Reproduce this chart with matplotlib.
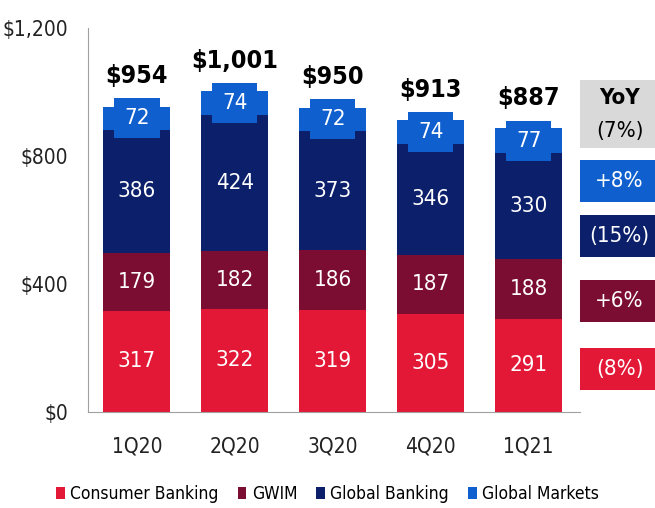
import matplotlib.pyplot as plt
from matplotlib.patches import Rectangle
from matplotlib.ticker import FuncFormatter

plt.rcParams['font.family'] = ['DejaVu Sans']
plt.rcParams['font.stretch'] = 'condensed'

quarters = ['1Q20', '2Q20', '3Q20', '4Q20', '1Q21']
consumer = [317, 322, 319, 305, 291]
gwim = [179, 182, 186, 187, 188]
global_banking = [386, 424, 373, 346, 330]
global_markets = [72, 74, 72, 74, 77]
totals = ['$954', '$1,001', '$950', '$913', '$887']

series_names = ['Consumer Banking', 'GWIM', 'Global Banking', 'Global Markets']
colors = ['#E31837', '#7B0C32', '#0B1F6B', '#0F5FCF']

yoy_labels = ['+8%', '(15%)', '+6%', '(8%)']
yoy_colors = ['#0F5FCF', '#0B1F6B', '#7B0C32', '#E31837']

fig = plt.figure(figsize=(6.55, 5.08), dpi=100)
ax = fig.add_axes([0.134, 0.189, 0.751, 0.756])

x = range(len(quarters))
bottoms = [0] * len(quarters)
series = [consumer, gwim, global_banking, global_markets]
for vals, c, name in zip(series, colors, series_names):
    ax.bar(x, vals, bottom=bottoms, width=0.68, color=c, label=name)
    for i, v in enumerate(vals):
        y = bottoms[i] + v / 2
        if name == 'Global Markets':
            # label box sticks out of the segment like in the original slide
            ax.text(i, y, str(v), ha='center', va='center', color='white',
                    fontsize=16, bbox=dict(boxstyle='square,pad=0.45', fc=c, ec='none'))
        else:
            ax.text(i, y, str(v), ha='center', va='center', color='white', fontsize=16)
    bottoms = [b + v for b, v in zip(bottoms, vals)]

for i, t in enumerate(totals):
    ax.text(i, bottoms[i] + 58, t, ha='center', va='bottom', fontsize=18,
            fontweight='bold')

ax.set_xlim(-0.5, 4.52)
ax.set_ylim(0, 1200)
ax.set_yticks([0, 400, 800, 1200])
ax.yaxis.set_major_formatter(FuncFormatter(lambda v, p: '${:,.0f}'.format(v)))
ax.set_xticks(list(x))
ax.set_xticklabels(quarters)
ax.tick_params(length=0, labelsize=15, colors='#222222')
ax.tick_params(axis='x', pad=18)
ax.tick_params(axis='y', pad=14)
for s in ['top', 'right']:
    ax.spines[s].set_visible(False)
for s in ['left', 'bottom']:
    ax.spines[s].set_color('#A0A0A0')

# YoY boxes on the right
fig.patches.append(Rectangle((0.886, 0.709), 0.12, 0.134, transform=fig.transFigure,
                             fc='#D9D9D9', ec='none'))
fig.text(0.946, 0.807, 'YoY', ha='center', va='center', fontsize=16, fontweight='bold')
fig.text(0.946, 0.742, '(7%)', ha='center', va='center', fontsize=16)
box_y = [0.603, 0.494, 0.366, 0.232]
for yb, lab, c in zip(box_y, yoy_labels, yoy_colors):
    fig.patches.append(Rectangle((0.886, yb), 0.12, 0.083, transform=fig.transFigure,
                                 fc=c, ec='none'))
    fig.text(0.946, yb + 0.0415, lab, ha='center', va='center', fontsize=16, color='white')

handles, labels = ax.get_legend_handles_labels()
fig.legend(handles, labels, loc='center', bbox_to_anchor=(0.5, 0.028), ncol=4,
           frameon=False, fontsize=12.5, handlelength=0.5, handleheight=0.7,
           handletextpad=0.3, columnspacing=1.1)

fig.savefig('out.png', dpi=100)
